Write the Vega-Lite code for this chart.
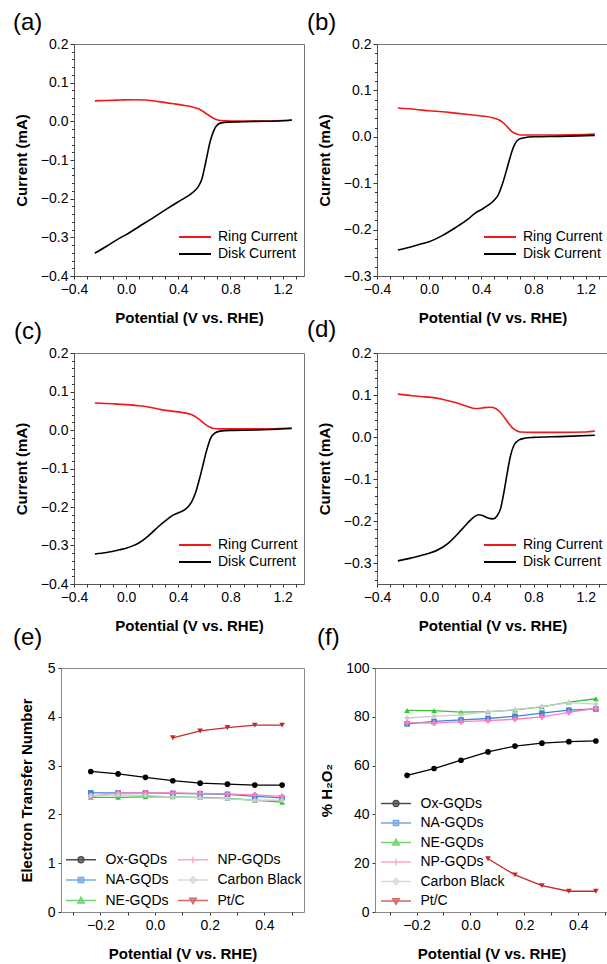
{
"$schema": "https://vega.github.io/schema/vega-lite/v6.json",
"padding": {"left": 12, "top": 10, "right": 0, "bottom": 0},
"config": {
  "font": "Liberation Sans",
  "view": {"stroke": "#777", "strokeWidth": 1},
  "axis": {"labelFont": "Liberation Sans", "titleFont": "Liberation Sans", "labelFontSize": 14, "titleFontSize": 15, "titleFontWeight": "bold", "labelColor": "#000", "titleColor": "#000", "domainColor": "#555", "tickColor": "#333", "tickSize": 3, "labelPadding": 3, "grid": false, "labelFlush": false, "labelOverlap": false},
  "legend": {"labelFont": "Liberation Sans", "labelFontSize": 14, "labelColor": "#000", "padding": 0},
  "title": {"font": "Liberation Sans", "fontSize": 24, "fontWeight": "normal", "anchor": "start", "frame": "group", "color": "#000"}
},
"datasets": {
  "empty": [],
  "a": [
    {"v":-0.24,"i":0.053,"s":"Ring Current"},{"v":-0.15,"i":0.054,"s":"Ring Current"},{"v":-0.05,"i":0.055,"s":"Ring Current"},{"v":0.05,"i":0.056,"s":"Ring Current"},{"v":0.15,"i":0.055,"s":"Ring Current"},{"v":0.25,"i":0.051,"s":"Ring Current"},{"v":0.35,"i":0.046,"s":"Ring Current"},{"v":0.45,"i":0.041,"s":"Ring Current"},{"v":0.52,"i":0.036,"s":"Ring Current"},{"v":0.57,"i":0.030,"s":"Ring Current"},{"v":0.61,"i":0.021,"s":"Ring Current"},{"v":0.65,"i":0.012,"s":"Ring Current"},{"v":0.69,"i":0.005,"s":"Ring Current"},{"v":0.73,"i":0.002,"s":"Ring Current"},{"v":0.8,"i":0.001,"s":"Ring Current"},{"v":0.9,"i":0.001,"s":"Ring Current"},{"v":1.0,"i":0.001,"s":"Ring Current"},{"v":1.1,"i":0.001,"s":"Ring Current"},{"v":1.2,"i":0.002,"s":"Ring Current"},{"v":1.25,"i":0.003,"s":"Ring Current"},{"v":1.27,"i":0.005,"s":"Ring Current"},
    {"v":-0.24,"i":-0.341,"s":"Disk Current"},{"v":-0.15,"i":-0.323,"s":"Disk Current"},{"v":-0.05,"i":-0.302,"s":"Disk Current"},{"v":0.0,"i":-0.293,"s":"Disk Current"},{"v":0.1,"i":-0.272,"s":"Disk Current"},{"v":0.2,"i":-0.251,"s":"Disk Current"},{"v":0.3,"i":-0.229,"s":"Disk Current"},{"v":0.4,"i":-0.208,"s":"Disk Current"},{"v":0.45,"i":-0.198,"s":"Disk Current"},{"v":0.5,"i":-0.187,"s":"Disk Current"},{"v":0.55,"i":-0.170,"s":"Disk Current"},{"v":0.58,"i":-0.150,"s":"Disk Current"},{"v":0.6,"i":-0.122,"s":"Disk Current"},{"v":0.62,"i":-0.090,"s":"Disk Current"},{"v":0.64,"i":-0.058,"s":"Disk Current"},{"v":0.66,"i":-0.035,"s":"Disk Current"},{"v":0.68,"i":-0.018,"s":"Disk Current"},{"v":0.7,"i":-0.009,"s":"Disk Current"},{"v":0.73,"i":-0.004,"s":"Disk Current"},{"v":0.78,"i":-0.002,"s":"Disk Current"},{"v":0.9,"i":-0.001,"s":"Disk Current"},{"v":1.0,"i":0.0,"s":"Disk Current"},{"v":1.15,"i":0.001,"s":"Disk Current"},{"v":1.27,"i":0.003,"s":"Disk Current"}
  ],
  "b": [
    {"v":-0.24,"i":0.062,"s":"Ring Current"},{"v":-0.1,"i":0.059,"s":"Ring Current"},{"v":0.0,"i":0.056,"s":"Ring Current"},{"v":0.1,"i":0.054,"s":"Ring Current"},{"v":0.2,"i":0.051,"s":"Ring Current"},{"v":0.3,"i":0.048,"s":"Ring Current"},{"v":0.4,"i":0.045,"s":"Ring Current"},{"v":0.5,"i":0.040,"s":"Ring Current"},{"v":0.55,"i":0.034,"s":"Ring Current"},{"v":0.58,"i":0.027,"s":"Ring Current"},{"v":0.61,"i":0.018,"s":"Ring Current"},{"v":0.64,"i":0.010,"s":"Ring Current"},{"v":0.67,"i":0.006,"s":"Ring Current"},{"v":0.7,"i":0.004,"s":"Ring Current"},{"v":0.8,"i":0.004,"s":"Ring Current"},{"v":1.0,"i":0.004,"s":"Ring Current"},{"v":1.2,"i":0.005,"s":"Ring Current"},{"v":1.27,"i":0.006,"s":"Ring Current"},
    {"v":-0.24,"i":-0.244,"s":"Disk Current"},{"v":-0.15,"i":-0.238,"s":"Disk Current"},{"v":-0.05,"i":-0.230,"s":"Disk Current"},{"v":0.0,"i":-0.226,"s":"Disk Current"},{"v":0.1,"i":-0.213,"s":"Disk Current"},{"v":0.2,"i":-0.196,"s":"Disk Current"},{"v":0.3,"i":-0.177,"s":"Disk Current"},{"v":0.35,"i":-0.165,"s":"Disk Current"},{"v":0.4,"i":-0.157,"s":"Disk Current"},{"v":0.45,"i":-0.148,"s":"Disk Current"},{"v":0.5,"i":-0.136,"s":"Disk Current"},{"v":0.53,"i":-0.125,"s":"Disk Current"},{"v":0.56,"i":-0.103,"s":"Disk Current"},{"v":0.59,"i":-0.075,"s":"Disk Current"},{"v":0.62,"i":-0.045,"s":"Disk Current"},{"v":0.64,"i":-0.027,"s":"Disk Current"},{"v":0.66,"i":-0.014,"s":"Disk Current"},{"v":0.69,"i":-0.005,"s":"Disk Current"},{"v":0.73,"i":-0.002,"s":"Disk Current"},{"v":0.8,"i":0.0,"s":"Disk Current"},{"v":1.0,"i":0.001,"s":"Disk Current"},{"v":1.27,"i":0.003,"s":"Disk Current"}
  ],
  "c": [
    {"v":-0.24,"i":0.070,"s":"Ring Current"},{"v":-0.1,"i":0.068,"s":"Ring Current"},{"v":0.0,"i":0.066,"s":"Ring Current"},{"v":0.1,"i":0.063,"s":"Ring Current"},{"v":0.2,"i":0.058,"s":"Ring Current"},{"v":0.3,"i":0.051,"s":"Ring Current"},{"v":0.4,"i":0.047,"s":"Ring Current"},{"v":0.5,"i":0.040,"s":"Ring Current"},{"v":0.55,"i":0.030,"s":"Ring Current"},{"v":0.58,"i":0.022,"s":"Ring Current"},{"v":0.61,"i":0.014,"s":"Ring Current"},{"v":0.64,"i":0.008,"s":"Ring Current"},{"v":0.67,"i":0.004,"s":"Ring Current"},{"v":0.72,"i":0.003,"s":"Ring Current"},{"v":0.9,"i":0.003,"s":"Ring Current"},{"v":1.1,"i":0.003,"s":"Ring Current"},{"v":1.27,"i":0.005,"s":"Ring Current"},
    {"v":-0.24,"i":-0.322,"s":"Disk Current"},{"v":-0.15,"i":-0.318,"s":"Disk Current"},{"v":-0.05,"i":-0.311,"s":"Disk Current"},{"v":0.0,"i":-0.307,"s":"Disk Current"},{"v":0.05,"i":-0.301,"s":"Disk Current"},{"v":0.1,"i":-0.293,"s":"Disk Current"},{"v":0.15,"i":-0.281,"s":"Disk Current"},{"v":0.2,"i":-0.266,"s":"Disk Current"},{"v":0.25,"i":-0.250,"s":"Disk Current"},{"v":0.3,"i":-0.236,"s":"Disk Current"},{"v":0.35,"i":-0.223,"s":"Disk Current"},{"v":0.4,"i":-0.215,"s":"Disk Current"},{"v":0.45,"i":-0.207,"s":"Disk Current"},{"v":0.5,"i":-0.188,"s":"Disk Current"},{"v":0.53,"i":-0.165,"s":"Disk Current"},{"v":0.56,"i":-0.130,"s":"Disk Current"},{"v":0.59,"i":-0.090,"s":"Disk Current"},{"v":0.61,"i":-0.062,"s":"Disk Current"},{"v":0.63,"i":-0.038,"s":"Disk Current"},{"v":0.65,"i":-0.020,"s":"Disk Current"},{"v":0.68,"i":-0.008,"s":"Disk Current"},{"v":0.72,"i":-0.003,"s":"Disk Current"},{"v":0.8,"i":-0.001,"s":"Disk Current"},{"v":1.0,"i":0.0,"s":"Disk Current"},{"v":1.27,"i":0.004,"s":"Disk Current"}
  ],
  "d": [
    {"v":-0.24,"i":0.102,"s":"Ring Current"},{"v":-0.15,"i":0.099,"s":"Ring Current"},{"v":-0.05,"i":0.096,"s":"Ring Current"},{"v":0.0,"i":0.095,"s":"Ring Current"},{"v":0.1,"i":0.090,"s":"Ring Current"},{"v":0.2,"i":0.082,"s":"Ring Current"},{"v":0.3,"i":0.072,"s":"Ring Current"},{"v":0.35,"i":0.068,"s":"Ring Current"},{"v":0.38,"i":0.068,"s":"Ring Current"},{"v":0.42,"i":0.070,"s":"Ring Current"},{"v":0.47,"i":0.071,"s":"Ring Current"},{"v":0.51,"i":0.068,"s":"Ring Current"},{"v":0.55,"i":0.057,"s":"Ring Current"},{"v":0.58,"i":0.045,"s":"Ring Current"},{"v":0.61,"i":0.032,"s":"Ring Current"},{"v":0.64,"i":0.021,"s":"Ring Current"},{"v":0.67,"i":0.015,"s":"Ring Current"},{"v":0.7,"i":0.012,"s":"Ring Current"},{"v":0.8,"i":0.011,"s":"Ring Current"},{"v":1.0,"i":0.011,"s":"Ring Current"},{"v":1.2,"i":0.012,"s":"Ring Current"},{"v":1.27,"i":0.014,"s":"Ring Current"},
    {"v":-0.24,"i":-0.295,"s":"Disk Current"},{"v":-0.15,"i":-0.289,"s":"Disk Current"},{"v":-0.05,"i":-0.281,"s":"Disk Current"},{"v":0.0,"i":-0.277,"s":"Disk Current"},{"v":0.1,"i":-0.263,"s":"Disk Current"},{"v":0.15,"i":-0.252,"s":"Disk Current"},{"v":0.2,"i":-0.237,"s":"Disk Current"},{"v":0.25,"i":-0.220,"s":"Disk Current"},{"v":0.3,"i":-0.203,"s":"Disk Current"},{"v":0.35,"i":-0.189,"s":"Disk Current"},{"v":0.38,"i":-0.185,"s":"Disk Current"},{"v":0.41,"i":-0.187,"s":"Disk Current"},{"v":0.45,"i":-0.193,"s":"Disk Current"},{"v":0.49,"i":-0.195,"s":"Disk Current"},{"v":0.52,"i":-0.188,"s":"Disk Current"},{"v":0.548,"i":-0.170,"s":"Disk Current"},{"v":0.574,"i":-0.130,"s":"Disk Current"},{"v":0.6,"i":-0.083,"s":"Disk Current"},{"v":0.625,"i":-0.043,"s":"Disk Current"},{"v":0.651,"i":-0.019,"s":"Disk Current"},{"v":0.689,"i":-0.007,"s":"Disk Current"},{"v":0.73,"i":-0.003,"s":"Disk Current"},{"v":0.8,"i":-0.001,"s":"Disk Current"},{"v":1.0,"i":0.001,"s":"Disk Current"},{"v":1.27,"i":0.004,"s":"Disk Current"}
  ],
  "e": [
    {"v":-0.235,"n":2.88,"s":"Ox-GQDs"},{"v":-0.135,"n":2.83,"s":"Ox-GQDs"},{"v":-0.035,"n":2.76,"s":"Ox-GQDs"},{"v":0.065,"n":2.69,"s":"Ox-GQDs"},{"v":0.165,"n":2.64,"s":"Ox-GQDs"},{"v":0.265,"n":2.62,"s":"Ox-GQDs"},{"v":0.365,"n":2.60,"s":"Ox-GQDs"},{"v":0.465,"n":2.60,"s":"Ox-GQDs"},
    {"v":-0.235,"n":2.44,"s":"NA-GQDs"},{"v":-0.135,"n":2.44,"s":"NA-GQDs"},{"v":-0.035,"n":2.44,"s":"NA-GQDs"},{"v":0.065,"n":2.43,"s":"NA-GQDs"},{"v":0.165,"n":2.42,"s":"NA-GQDs"},{"v":0.265,"n":2.41,"s":"NA-GQDs"},{"v":0.365,"n":2.37,"s":"NA-GQDs"},{"v":0.465,"n":2.34,"s":"NA-GQDs"},
    {"v":-0.235,"n":2.35,"s":"NE-GQDs"},{"v":-0.135,"n":2.35,"s":"NE-GQDs"},{"v":-0.035,"n":2.36,"s":"NE-GQDs"},{"v":0.065,"n":2.36,"s":"NE-GQDs"},{"v":0.165,"n":2.35,"s":"NE-GQDs"},{"v":0.265,"n":2.33,"s":"NE-GQDs"},{"v":0.365,"n":2.29,"s":"NE-GQDs"},{"v":0.465,"n":2.25,"s":"NE-GQDs"},
    {"v":-0.235,"n":2.37,"s":"NP-GQDs"},{"v":-0.135,"n":2.44,"s":"NP-GQDs"},{"v":-0.035,"n":2.44,"s":"NP-GQDs"},{"v":0.065,"n":2.44,"s":"NP-GQDs"},{"v":0.165,"n":2.43,"s":"NP-GQDs"},{"v":0.265,"n":2.42,"s":"NP-GQDs"},{"v":0.365,"n":2.40,"s":"NP-GQDs"},{"v":0.465,"n":2.37,"s":"NP-GQDs"},
    {"v":-0.235,"n":2.39,"s":"Carbon Black"},{"v":-0.135,"n":2.40,"s":"Carbon Black"},{"v":-0.035,"n":2.39,"s":"Carbon Black"},{"v":0.065,"n":2.36,"s":"Carbon Black"},{"v":0.165,"n":2.34,"s":"Carbon Black"},{"v":0.265,"n":2.32,"s":"Carbon Black"},{"v":0.365,"n":2.29,"s":"Carbon Black"},{"v":0.465,"n":2.29,"s":"Carbon Black"},
    {"v":0.065,"n":3.57,"s":"Pt/C"},{"v":0.165,"n":3.71,"s":"Pt/C"},{"v":0.265,"n":3.78,"s":"Pt/C"},{"v":0.365,"n":3.83,"s":"Pt/C"},{"v":0.465,"n":3.83,"s":"Pt/C"}
  ],
  "f": [
    {"v":-0.235,"p":56.0,"s":"Ox-GQDs"},{"v":-0.135,"p":58.8,"s":"Ox-GQDs"},{"v":-0.035,"p":62.2,"s":"Ox-GQDs"},{"v":0.065,"p":65.6,"s":"Ox-GQDs"},{"v":0.165,"p":68.0,"s":"Ox-GQDs"},{"v":0.265,"p":69.2,"s":"Ox-GQDs"},{"v":0.365,"p":69.8,"s":"Ox-GQDs"},{"v":0.465,"p":70.1,"s":"Ox-GQDs"},
    {"v":-0.235,"p":77.1,"s":"NA-GQDs"},{"v":-0.135,"p":78.1,"s":"NA-GQDs"},{"v":-0.035,"p":78.7,"s":"NA-GQDs"},{"v":0.065,"p":79.3,"s":"NA-GQDs"},{"v":0.165,"p":80.2,"s":"NA-GQDs"},{"v":0.265,"p":81.5,"s":"NA-GQDs"},{"v":0.365,"p":82.7,"s":"NA-GQDs"},{"v":0.465,"p":83.2,"s":"NA-GQDs"},
    {"v":-0.235,"p":82.6,"s":"NE-GQDs"},{"v":-0.135,"p":82.5,"s":"NE-GQDs"},{"v":-0.035,"p":81.9,"s":"NE-GQDs"},{"v":0.065,"p":82.1,"s":"NE-GQDs"},{"v":0.165,"p":82.8,"s":"NE-GQDs"},{"v":0.265,"p":84.1,"s":"NE-GQDs"},{"v":0.365,"p":86.0,"s":"NE-GQDs"},{"v":0.465,"p":87.4,"s":"NE-GQDs"},
    {"v":-0.235,"p":77.6,"s":"NP-GQDs"},{"v":-0.135,"p":77.4,"s":"NP-GQDs"},{"v":-0.035,"p":78.0,"s":"NP-GQDs"},{"v":0.065,"p":78.4,"s":"NP-GQDs"},{"v":0.165,"p":79.0,"s":"NP-GQDs"},{"v":0.265,"p":80.0,"s":"NP-GQDs"},{"v":0.365,"p":81.8,"s":"NP-GQDs"},{"v":0.465,"p":83.5,"s":"NP-GQDs"},
    {"v":-0.235,"p":79.5,"s":"Carbon Black"},{"v":-0.135,"p":80.2,"s":"Carbon Black"},{"v":-0.035,"p":80.8,"s":"Carbon Black"},{"v":0.065,"p":82.0,"s":"Carbon Black"},{"v":0.165,"p":82.9,"s":"Carbon Black"},{"v":0.265,"p":84.2,"s":"Carbon Black"},{"v":0.365,"p":85.8,"s":"Carbon Black"},{"v":0.465,"p":85.2,"s":"Carbon Black"},
    {"v":0.065,"p":21.8,"s":"Pt/C"},{"v":0.165,"p":15.2,"s":"Pt/C"},{"v":0.265,"p":10.8,"s":"Pt/C"},{"v":0.365,"p":8.5,"s":"Pt/C"},{"v":0.465,"p":8.5,"s":"Pt/C"}
  ]
},
"spacing": -9,
"resolve": {"scale": {"color": "independent", "shape": "independent", "fill": "independent", "stroke": "independent"}},
"vconcat": [
 {
  "hconcat": [
   {
    "width": 230, "height": 232,
    "title": {"text": "(a)", "dx": -61, "offset": 2},
    "resolve": {"axis": {"x": "independent", "y": "independent"}},
    "layer": [
     {"data": {"name": "a"}, "mark": {"type": "line", "interpolate": "monotone", "strokeWidth": 1.6},
      "encoding": {
       "x": {"field": "v", "type": "quantitative", "scale": {"domain": [-0.4, 1.364], "nice": false, "zero": false}, "axis": {"title": "Potential (V vs. RHE)", "values": [-0.4, 0, 0.4, 0.8, 1.2], "format": ".1f", "titlePadding": 14}},
       "y": {"field": "i", "type": "quantitative", "scale": {"domain": [-0.4, 0.2], "nice": false, "zero": false}, "axis": {"title": "Current (mA)", "values": [-0.4, -0.3, -0.2, -0.1, 0, 0.1, 0.2], "format": ".1f", "tickSize": 4, "labelPadding": 2, "titlePadding": 11}},
       "color": {"field": "s", "type": "nominal", "scale": {"domain": ["Ring Current", "Disk Current"], "range": ["#f01818", "#000000"]}, "legend": {"title": null, "orient": "none", "legendX": 105, "legendY": 184, "symbolType": "M-2,0H2", "symbolSize": 256, "symbolOffset": 7, "symbolStrokeWidth": 2, "labelOffset": 14, "rowPadding": 1}}
      }},
     {"data": {"name": "empty"}, "mark": "point",
      "encoding": {
       "x": {"field": "v", "type": "quantitative", "scale": {"domain": [-0.4, 1.364], "nice": false, "zero": false}, "axis": {"orient": "bottom", "values": [-0.3,-0.2,-0.1,0.1,0.2,0.3,0.5,0.6,0.7,0.9,1.0,1.1,1.3], "labels": false, "domain": false, "title": null}},
       "y": {"field": "i", "type": "quantitative", "scale": {"domain": [-0.4, 0.2], "nice": false, "zero": false}, "axis": {"orient": "left", "values": [-0.38,-0.36,-0.34,-0.32,-0.28,-0.26,-0.24,-0.22,-0.18,-0.16,-0.14,-0.12,-0.08,-0.06,-0.04,-0.02,0.02,0.04,0.06,0.08,0.12,0.14,0.16,0.18], "labels": false, "domain": false, "title": null, "tickSize": 2.5}}
      }}
    ]
   },
   {
    "width": 231, "height": 232,
    "title": {"text": "(b)", "dx": -70, "offset": 2},
    "resolve": {"axis": {"x": "independent", "y": "independent"}},
    "layer": [
     {"data": {"name": "b"}, "mark": {"type": "line", "interpolate": "monotone", "strokeWidth": 1.6},
      "encoding": {
       "x": {"field": "v", "type": "quantitative", "scale": {"domain": [-0.4, 1.371], "nice": false, "zero": false}, "axis": {"title": "Potential (V vs. RHE)", "values": [-0.4, 0, 0.4, 0.8, 1.2], "format": ".1f", "titlePadding": 14}},
       "y": {"field": "i", "type": "quantitative", "scale": {"domain": [-0.3, 0.2], "nice": false, "zero": false}, "axis": {"title": "Current (mA)", "values": [-0.3, -0.2, -0.1, 0, 0.1, 0.2], "format": ".1f", "tickSize": 4, "labelPadding": 2, "titlePadding": 11}},
       "color": {"field": "s", "type": "nominal", "scale": {"domain": ["Ring Current", "Disk Current"], "range": ["#f01818", "#000000"]}, "legend": {"title": null, "orient": "none", "legendX": 107, "legendY": 184, "symbolType": "M-2,0H2", "symbolSize": 256, "symbolOffset": 7, "symbolStrokeWidth": 2, "labelOffset": 14, "rowPadding": 1}}
      }},
     {"data": {"name": "empty"}, "mark": "point",
      "encoding": {
       "x": {"field": "v", "type": "quantitative", "scale": {"domain": [-0.4, 1.371], "nice": false, "zero": false}, "axis": {"orient": "bottom", "values": [-0.3,-0.2,-0.1,0.1,0.2,0.3,0.5,0.6,0.7,0.9,1.0,1.1,1.3], "labels": false, "domain": false, "title": null}},
       "y": {"field": "i", "type": "quantitative", "scale": {"domain": [-0.3, 0.2], "nice": false, "zero": false}, "axis": {"orient": "left", "values": [-0.28,-0.26,-0.24,-0.22,-0.18,-0.16,-0.14,-0.12,-0.08,-0.06,-0.04,-0.02,0.02,0.04,0.06,0.08,0.12,0.14,0.16,0.18], "labels": false, "domain": false, "title": null, "tickSize": 2.5}}
      }}
    ]
   }
  ],
  "spacing": 73, "bounds": "flush",
  "resolve": {"scale": {"color": "independent"}}
 },
 {
  "hconcat": [
   {
    "width": 230, "height": 231,
    "title": {"text": "(c)", "dx": -60, "offset": 2},
    "resolve": {"axis": {"x": "independent", "y": "independent"}},
    "layer": [
     {"data": {"name": "c"}, "mark": {"type": "line", "interpolate": "monotone", "strokeWidth": 1.6},
      "encoding": {
       "x": {"field": "v", "type": "quantitative", "scale": {"domain": [-0.4, 1.364], "nice": false, "zero": false}, "axis": {"title": "Potential (V vs. RHE)", "values": [-0.4, 0, 0.4, 0.8, 1.2], "format": ".1f", "titlePadding": 14}},
       "y": {"field": "i", "type": "quantitative", "scale": {"domain": [-0.4, 0.2], "nice": false, "zero": false}, "axis": {"title": "Current (mA)", "values": [-0.4, -0.3, -0.2, -0.1, 0, 0.1, 0.2], "format": ".1f", "tickSize": 4, "labelPadding": 2, "titlePadding": 11}},
       "color": {"field": "s", "type": "nominal", "scale": {"domain": ["Ring Current", "Disk Current"], "range": ["#f01818", "#000000"]}, "legend": {"title": null, "orient": "none", "legendX": 105, "legendY": 183, "symbolType": "M-2,0H2", "symbolSize": 256, "symbolOffset": 7, "symbolStrokeWidth": 2, "labelOffset": 14, "rowPadding": 1}}
      }},
     {"data": {"name": "empty"}, "mark": "point",
      "encoding": {
       "x": {"field": "v", "type": "quantitative", "scale": {"domain": [-0.4, 1.364], "nice": false, "zero": false}, "axis": {"orient": "bottom", "values": [-0.3,-0.2,-0.1,0.1,0.2,0.3,0.5,0.6,0.7,0.9,1.0,1.1,1.3], "labels": false, "domain": false, "title": null}},
       "y": {"field": "i", "type": "quantitative", "scale": {"domain": [-0.4, 0.2], "nice": false, "zero": false}, "axis": {"orient": "left", "values": [-0.38,-0.36,-0.34,-0.32,-0.28,-0.26,-0.24,-0.22,-0.18,-0.16,-0.14,-0.12,-0.08,-0.06,-0.04,-0.02,0.02,0.04,0.06,0.08,0.12,0.14,0.16,0.18], "labels": false, "domain": false, "title": null, "tickSize": 2.5}}
      }}
    ]
   },
   {
    "width": 231, "height": 231,
    "title": {"text": "(d)", "dx": -70, "offset": 4},
    "resolve": {"axis": {"x": "independent", "y": "independent"}},
    "layer": [
     {"data": {"name": "d"}, "mark": {"type": "line", "interpolate": "monotone", "strokeWidth": 1.6},
      "encoding": {
       "x": {"field": "v", "type": "quantitative", "scale": {"domain": [-0.4, 1.371], "nice": false, "zero": false}, "axis": {"title": "Potential (V vs. RHE)", "values": [-0.4, 0, 0.4, 0.8, 1.2], "format": ".1f", "titlePadding": 14}},
       "y": {"field": "i", "type": "quantitative", "scale": {"domain": [-0.35, 0.2], "nice": false, "zero": false}, "axis": {"title": "Current (mA)", "values": [-0.3, -0.2, -0.1, 0, 0.1, 0.2], "format": ".1f", "tickSize": 4, "labelPadding": 2, "titlePadding": 11}},
       "color": {"field": "s", "type": "nominal", "scale": {"domain": ["Ring Current", "Disk Current"], "range": ["#f01818", "#000000"]}, "legend": {"title": null, "orient": "none", "legendX": 107, "legendY": 183, "symbolType": "M-2,0H2", "symbolSize": 256, "symbolOffset": 7, "symbolStrokeWidth": 2, "labelOffset": 14, "rowPadding": 1}}
      }},
     {"data": {"name": "empty"}, "mark": "point",
      "encoding": {
       "x": {"field": "v", "type": "quantitative", "scale": {"domain": [-0.4, 1.371], "nice": false, "zero": false}, "axis": {"orient": "bottom", "values": [-0.3,-0.2,-0.1,0.1,0.2,0.3,0.5,0.6,0.7,0.9,1.0,1.1,1.3], "labels": false, "domain": false, "title": null}},
       "y": {"field": "i", "type": "quantitative", "scale": {"domain": [-0.35, 0.2], "nice": false, "zero": false}, "axis": {"orient": "left", "values": [-0.34,-0.32,-0.28,-0.26,-0.24,-0.22,-0.18,-0.16,-0.14,-0.12,-0.08,-0.06,-0.04,-0.02,0.02,0.04,0.06,0.08,0.12,0.14,0.16,0.18], "labels": false, "domain": false, "title": null, "tickSize": 2.5}}
      }}
    ]
   }
  ],
  "spacing": 73, "bounds": "flush",
  "resolve": {"scale": {"color": "independent"}}
 },
 {
  "hconcat": [
   {
    "width": 230, "height": 244,
    "view": {"stroke": null},
    "title": {"text": "(e)", "dx": -61, "offset": 11},
    "resolve": {"axis": {"x": "independent", "y": "independent"}, "scale": {"shape": "independent", "fill": "independent", "stroke": "independent"}},
    "layer": [
     {"data": {"name": "e"}, "mark": {"type": "line", "strokeWidth": 1.3},
      "encoding": {
       "x": {"field": "v", "type": "quantitative", "scale": {"domain": [-0.344, 0.545], "range": [-13, 230], "nice": false, "zero": false}, "axis": {"title": "Potential (V vs. RHE)", "values": [-0.2, 0, 0.2, 0.4], "format": ".1f", "titlePadding": 14, "domainColor": "#888"}},
       "y": {"field": "n", "type": "quantitative", "scale": {"domain": [0, 5], "nice": false, "zero": false}, "axis": {"title": "Electron Transfer Number", "values": [0, 1, 2, 3, 4, 5], "format": "d", "offset": 13, "labelPadding": 3, "titlePadding": 13, "domainColor": "#888"}},
       "color": {"field": "s", "type": "nominal", "scale": {"domain": ["Ox-GQDs", "NA-GQDs", "NE-GQDs", "NP-GQDs", "Carbon Black", "Pt/C"], "range": ["#000000", "#3d86d8", "#35c435", "#ff7dbe", "#cccccc", "#c62828"]}, "legend": null}
      }},
     {"data": {"name": "e"}, "mark": {"type": "point", "filled": true, "size": 32, "opacity": 1},
      "encoding": {
       "x": {"field": "v", "type": "quantitative", "scale": {"domain": [-0.344, 0.545], "range": [-13, 230], "nice": false, "zero": false}, "axis": null},
       "y": {"field": "n", "type": "quantitative", "scale": {"domain": [0, 5], "nice": false, "zero": false}, "axis": null},
       "color": {"field": "s", "type": "nominal", "scale": {"domain": ["Ox-GQDs", "NA-GQDs", "NE-GQDs", "NP-GQDs", "Carbon Black", "Pt/C"], "range": ["#000000", "#3d86d8", "#35c435", "#ff7dbe", "#cccccc", "#c62828"]}, "legend": null},
       "shape": {"field": "s", "type": "nominal", "scale": {"domain": ["Ox-GQDs", "NA-GQDs", "NE-GQDs", "NP-GQDs", "Carbon Black", "Pt/C"], "range": ["circle", "square", "triangle-up", "cross", "diamond", "triangle-down"]}, "legend": null}
      }},
     {"data": {"name": "empty"}, "mark": "point",
      "encoding": {
       "x": {"field": "v", "type": "quantitative", "scale": {"domain": [-0.344, 0.545], "range": [-13, 230], "nice": false, "zero": false}, "axis": {"orient": "bottom", "values": [-0.3, -0.1, 0.1, 0.3, 0.5], "labels": false, "domain": false, "title": null}},
       "y": {"field": "n", "type": "quantitative", "scale": {"domain": [0, 5], "nice": false, "zero": false}, "axis": {"orient": "right", "labels": false, "ticks": false, "title": null, "domainColor": "#888"}}
      }},
     {"data": {"name": "empty"}, "mark": "point",
      "encoding": {
       "x": {"field": "v", "type": "quantitative", "scale": {"domain": [-0.344, 0.545], "range": [-13, 230], "nice": false, "zero": false}, "axis": {"orient": "top", "labels": false, "ticks": false, "title": null, "domainColor": "#888"}},
       "y": {"field": "n", "type": "quantitative", "scale": {"domain": [0, 5], "nice": false, "zero": false}, "axis": null}
      }},
     {"data": {"name": "empty"}, "mark": {"type": "point", "filled": true, "strokeWidth": 1.3},
      "encoding": {
       "fill": {"field": "s", "type": "nominal", "scale": {"domain": ["Ox-GQDs", "NA-GQDs", "NE-GQDs", "NP-GQDs", "Carbon Black", "Pt/C"], "range": ["#000000", "#3d86d8", "#35c435", "#ff7dbe", "#cccccc", "#c62828"]}, "legend": {"title": null, "orient": "none", "legendX": -9, "legendY": 183, "columns": 2, "columnPadding": 6, "rowPadding": 4.5, "labelOffset": 16, "symbolSize": 225, "symbolOffset": 7.5, "symbolStrokeWidth": 1.3}},
       "stroke": {"field": "s", "type": "nominal", "scale": {"domain": ["Ox-GQDs", "NA-GQDs", "NE-GQDs", "NP-GQDs", "Carbon Black", "Pt/C"], "range": ["#000000", "#3d86d8", "#35c435", "#ff7dbe", "#cccccc", "#c62828"]}, "legend": {"title": null, "orient": "none", "legendX": -9, "legendY": 183, "columns": 2, "columnPadding": 6, "rowPadding": 4.5, "labelOffset": 16, "symbolSize": 225, "symbolOffset": 7.5, "symbolStrokeWidth": 1.3}},
       "shape": {"field": "s", "type": "nominal", "scale": {"domain": ["Ox-GQDs", "NA-GQDs", "NE-GQDs", "NP-GQDs", "Carbon Black", "Pt/C"], "range": ["M-2,0H2M-0.4,0A0.4,0.4,0,1,1,0.4,0A0.4,0.4,0,1,1,-0.4,0Z", "M-2,0H2M-0.36,-0.36H0.36V0.36H-0.36Z", "M-2,0H2M0,-0.45L0.45,0.33H-0.45Z", "M-2,0H2M0,-0.45V0.45", "M-2,0H2M0,-0.45L0.45,0L0,0.45L-0.45,0Z", "M-2,0H2M0,0.45L0.45,-0.33H-0.45Z"]}, "legend": {"title": null, "orient": "none", "legendX": -9, "legendY": 183, "columns": 2, "columnPadding": 6, "rowPadding": 4.5, "labelOffset": 16, "symbolSize": 225, "symbolOffset": 7.5, "symbolStrokeWidth": 1.3}}
      }}
    ]
   },
   {
    "width": 233, "height": 244,
    "title": {"text": "(f)", "dx": -58, "offset": 11},
    "resolve": {"axis": {"x": "independent", "y": "independent"}, "scale": {"shape": "independent", "fill": "independent", "stroke": "independent"}},
    "layer": [
     {"data": {"name": "f"}, "mark": {"type": "line", "strokeWidth": 1.3},
      "encoding": {
       "x": {"field": "v", "type": "quantitative", "scale": {"domain": [-0.354, 0.51], "nice": false, "zero": false}, "axis": {"title": "Potential (V vs. RHE)", "values": [-0.2, 0, 0.2, 0.4], "format": ".1f", "titlePadding": 14, "domainColor": "#888"}},
       "y": {"field": "p", "type": "quantitative", "scale": {"domain": [0, 100], "nice": false, "zero": false}, "axis": {"title": "% H₂O₂", "values": [0, 20, 40, 60, 80, 100], "format": "d", "labelPadding": 3, "titlePadding": 11, "domainColor": "#888"}},
       "color": {"field": "s", "type": "nominal", "scale": {"domain": ["Ox-GQDs", "NA-GQDs", "NE-GQDs", "NP-GQDs", "Carbon Black", "Pt/C"], "range": ["#000000", "#3d86d8", "#35c435", "#ff7dbe", "#cccccc", "#c62828"]}, "legend": null}
      }},
     {"data": {"name": "f"}, "mark": {"type": "point", "filled": true, "size": 32, "opacity": 1},
      "encoding": {
       "x": {"field": "v", "type": "quantitative", "scale": {"domain": [-0.354, 0.51], "nice": false, "zero": false}, "axis": null},
       "y": {"field": "p", "type": "quantitative", "scale": {"domain": [0, 100], "nice": false, "zero": false}, "axis": null},
       "color": {"field": "s", "type": "nominal", "scale": {"domain": ["Ox-GQDs", "NA-GQDs", "NE-GQDs", "NP-GQDs", "Carbon Black", "Pt/C"], "range": ["#000000", "#3d86d8", "#35c435", "#ff7dbe", "#cccccc", "#c62828"]}, "legend": null},
       "shape": {"field": "s", "type": "nominal", "scale": {"domain": ["Ox-GQDs", "NA-GQDs", "NE-GQDs", "NP-GQDs", "Carbon Black", "Pt/C"], "range": ["circle", "square", "triangle-up", "cross", "diamond", "triangle-down"]}, "legend": null}
      }},
     {"data": {"name": "empty"}, "mark": "point",
      "encoding": {
       "x": {"field": "v", "type": "quantitative", "scale": {"domain": [-0.354, 0.51], "nice": false, "zero": false}, "axis": {"orient": "bottom", "values": [-0.3, -0.1, 0.1, 0.3, 0.5], "labels": false, "domain": false, "title": null}},
       "y": {"field": "p", "type": "quantitative", "scale": {"domain": [0, 100], "nice": false, "zero": false}, "axis": null}
      }},
     {"data": {"name": "empty"}, "mark": {"type": "point", "filled": true, "strokeWidth": 1.3},
      "encoding": {
       "fill": {"field": "s", "type": "nominal", "scale": {"domain": ["Ox-GQDs", "NA-GQDs", "NE-GQDs", "NP-GQDs", "Carbon Black", "Pt/C"], "range": ["#000000", "#3d86d8", "#35c435", "#ff7dbe", "#cccccc", "#c62828"]}, "legend": {"title": null, "orient": "none", "legendX": 5, "legendY": 127, "rowPadding": 3.5, "labelOffset": 16, "symbolSize": 225, "symbolOffset": 7.5, "symbolStrokeWidth": 1.3}},
       "stroke": {"field": "s", "type": "nominal", "scale": {"domain": ["Ox-GQDs", "NA-GQDs", "NE-GQDs", "NP-GQDs", "Carbon Black", "Pt/C"], "range": ["#000000", "#3d86d8", "#35c435", "#ff7dbe", "#cccccc", "#c62828"]}, "legend": {"title": null, "orient": "none", "legendX": 5, "legendY": 127, "rowPadding": 3.5, "labelOffset": 16, "symbolSize": 225, "symbolOffset": 7.5, "symbolStrokeWidth": 1.3}},
       "shape": {"field": "s", "type": "nominal", "scale": {"domain": ["Ox-GQDs", "NA-GQDs", "NE-GQDs", "NP-GQDs", "Carbon Black", "Pt/C"], "range": ["M-2,0H2M-0.4,0A0.4,0.4,0,1,1,0.4,0A0.4,0.4,0,1,1,-0.4,0Z", "M-2,0H2M-0.36,-0.36H0.36V0.36H-0.36Z", "M-2,0H2M0,-0.45L0.45,0.33H-0.45Z", "M-2,0H2M0,-0.45V0.45", "M-2,0H2M0,-0.45L0.45,0L0,0.45L-0.45,0Z", "M-2,0H2M0,0.45L0.45,-0.33H-0.45Z"]}, "legend": {"title": null, "orient": "none", "legendX": 5, "legendY": 127, "rowPadding": 3.5, "labelOffset": 16, "symbolSize": 225, "symbolOffset": 7.5, "symbolStrokeWidth": 1.3}}
      }}
    ]
   }
  ],
  "spacing": 71, "bounds": "flush",
  "resolve": {"scale": {"color": "independent", "shape": "independent", "fill": "independent", "stroke": "independent"}}
 }
]
}
